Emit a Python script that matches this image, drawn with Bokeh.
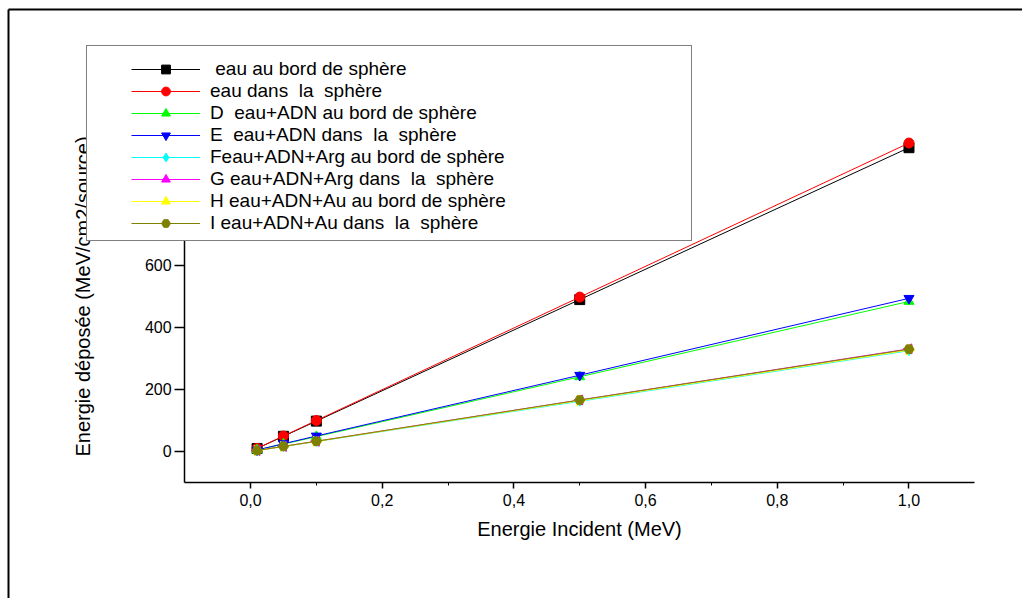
from math import pi
from bokeh.plotting import figure
from bokeh.models import (Range1d, FixedTicker, CustomJSTickFormatter, Legend,
                          LegendItem)
from bokeh.embed import file_html
from bokeh.resources import INLINE

# ---- data -------------------------------------------------------------
energy = [0.01, 0.05, 0.1, 0.5, 1.0]
eau_bord = [9.8, 49, 98, 490, 980]
eau_dans = [10, 50, 100, 498, 995]
adn_bord = [4.8, 24, 48, 241, 484]
adn_dans = [4.9, 25, 50, 246, 494]
arg_bord = [3.2, 16, 32, 162, 325]
arg_dans = [3.3, 16.5, 33, 166, 331]
au_bord = [3.2, 16.3, 32.5, 164, 327]
au_dans = [3.3, 16.6, 33, 166, 330]

series = [eau_bord, eau_dans, adn_bord, adn_dans, arg_bord, arg_dans, au_bord, au_dans]
labels = [" eau au bord de sphère",
          "eau dans  la  sphère",
          "D  eau+ADN au bord de sphère",
          "E  eau+ADN dans  la  sphère",
          "Feau+ADN+Arg au bord de sphère",
          "G eau+ADN+Arg dans  la  sphère",
          "H eau+ADN+Au au bord de sphère",
          "I eau+ADN+Au dans  la  sphère"]
colors = ["#000000", "#FF0000", "#00FF00", "#0000FF", "#00FFFF", "#FF00FF", "#FFFF00", "#808000"]
markers = ["square", "circle", "triangle", "inverted_triangle", "diamond", "triangle", "triangle", "hex"]
angles = [0, 0, 0, 0, 0, pi / 2, -pi / 2, 0]

x_ticks = [0.0, 0.2, 0.4, 0.6, 0.8, 1.0]
x_minor = [0.1, 0.3, 0.5, 0.7, 0.9]
y_ticks = [0, 200, 400, 600, 800, 1000]
x_axis_bounds = (-0.1, 1.1)
y_axis_bounds = (-100, 1100)

FONT = "Liberation Sans"
W, H = 1022, 598
X0, X1 = -0.3797, 1.1724
Y0, Y1 = -474.2, 1454.8


def xd(px):
    return X0 + px * (X1 - X0) / W


def yd(py):
    return Y1 - py * (Y1 - Y0) / H


# the frame covers the whole canvas; the axes sit at fixed data locations
p = figure(width=W, height=H,
           x_range=Range1d(X0, X1), y_range=Range1d(Y0, Y1),
           output_backend="svg", toolbar_location=None, min_border=0)
p.outline_line_color = None
p.grid.visible = False
p.background_fill_color = "white"
p.border_fill_color = "white"

# axes
p.xaxis.fixed_location = y_axis_bounds[0]
p.yaxis.fixed_location = x_axis_bounds[0]
p.xaxis.bounds = x_axis_bounds
p.yaxis.bounds = y_axis_bounds
p.xaxis.ticker = FixedTicker(ticks=x_ticks, minor_ticks=x_minor)
p.xaxis.formatter = CustomJSTickFormatter(code="return tick.toFixed(1).replace('.', ',');")
p.yaxis.ticker = FixedTicker(ticks=y_ticks, minor_ticks=[])
for ax in (p.xaxis[0], p.yaxis[0]):
    ax.axis_line_color = "black"
    ax.axis_line_width = 1.5
    ax.major_tick_line_color = "black"
    ax.major_tick_line_width = 1.5
    ax.minor_tick_line_color = "black"
    ax.major_tick_in = 0
    ax.minor_tick_in = 0
    ax.major_label_text_font = FONT
    ax.major_label_text_font_size = "16px"
    ax.major_label_text_color = "black"
    ax.axis_label_text_font = FONT
    ax.axis_label_text_font_size = "20px"
    ax.axis_label_text_font_style = "normal"
    ax.axis_label_text_color = "black"
p.xaxis.major_tick_out = 6
p.xaxis.minor_tick_out = 3
p.xaxis.major_label_standoff = 6
p.xaxis.axis_label = "Energie Incident (MeV)"
p.xaxis.axis_label_standoff = 8
p.yaxis.major_tick_out = 10
p.yaxis.major_label_standoff = 3
p.yaxis.axis_label = "Energie déposée (MeV/cm2/source)"
p.yaxis.axis_label_standoff = 39

# outer page frame: left and top edges (the others lie outside the picture)
p.line([xd(8), xd(8)], [yd(800), yd(9)], line_color="black", line_width=2)
p.line([xd(8), xd(1030)], [yd(9), yd(9)], line_color="black", line_width=2)

# series
items = []
for vals, lab, col, mk, ang in zip(series, labels, colors, markers, angles):
    rl = p.line(energy, vals, line_color=col, line_width=1)
    rs = p.scatter(energy, vals, marker=mk, size=10, angle=ang,
                   fill_color=col, line_color=col)
    items.append(LegendItem(label=lab, renderers=[rl, rs]))

dummy = p.scatter(x=[], y=[], size=0, fill_alpha=0, line_alpha=0)

# legend box
box_leg = Legend(items=[LegendItem(label=" ", renderers=[dummy])],
                 location=(86, 357), padding=0, margin=0,
                 glyph_width=1, glyph_height=194, label_height=194,
                 label_width=603, label_standoff=0, spacing=0,
                 border_line_color="black", border_line_width=1.5,
                 background_fill_color="white", background_fill_alpha=1)

main_leg = Legend(items=items, location=(131, 364), padding=0, margin=0,
                  glyph_width=69, glyph_height=22, label_height=22, spacing=0,
                  label_standoff=10, label_text_font=FONT,
                  label_text_font_size="19px", label_text_color="black",
                  border_line_alpha=0, background_fill_alpha=0)

p.add_layout(box_leg)
p.add_layout(main_leg)

open("out.html", "w").write(file_html(p, INLINE))
